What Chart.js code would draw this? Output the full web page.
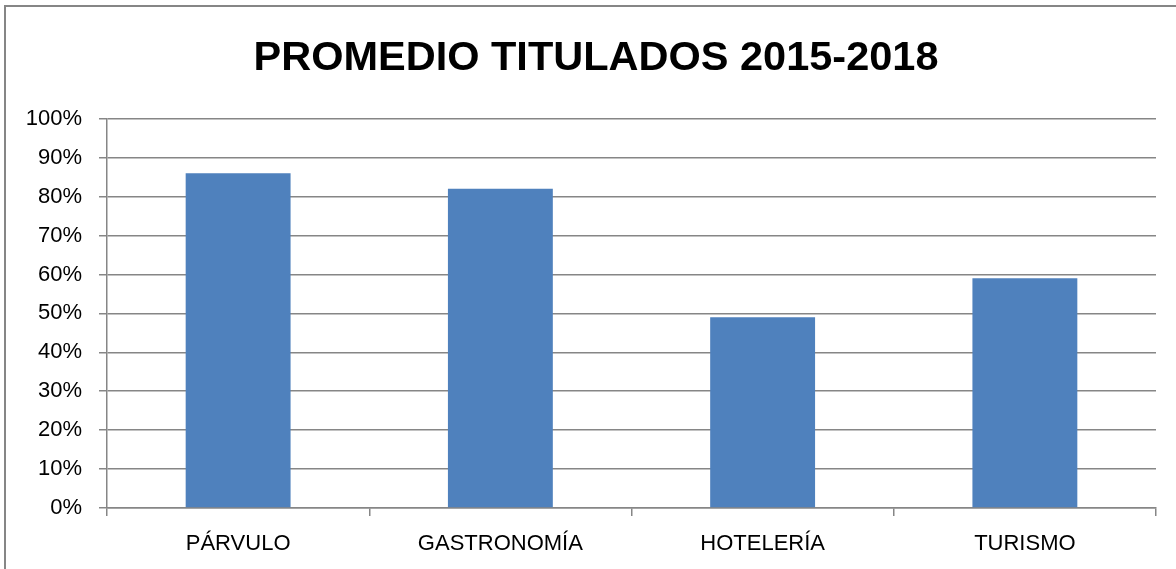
<!DOCTYPE html>
<html>
<head>
<meta charset="utf-8">
<script src="https://cdn.jsdelivr.net/npm/chart.js@4/dist/chart.umd.min.js"></script>
<style>
  html, body { margin: 0; padding: 0; background: #fff; }
  #wrap { width: 1176px; height: 569px; position: relative; }
</style>
</head>
<body>
<div id="wrap"><canvas id="myChart" width="1176" height="569"></canvas></div>
<script>
var categories = ['PÁRVULO', 'GASTRONOMÍA', 'HOTELERÍA', 'TURISMO'];
var promedio = [86, 82, 49, 59];
var titleText = 'PROMEDIO TITULADOS 2015-2018';

var gray = '#868686';

// outer frame like the spreadsheet chart border
var framePlugin = {
  id: 'frame',
  beforeDraw: function (chart) {
    var c = chart.ctx;
    c.save();
    c.fillStyle = '#fff';
    c.fillRect(0, 0, chart.width, chart.height);
    c.strokeStyle = gray;
    c.lineWidth = 2;
    c.strokeRect(5, 6, chart.width + 20, chart.height + 20);
    c.restore();
  },
  // the original frame runs past the right edge, so its title sits a bit right of centre
  afterLayout: function (chart) {
    if (chart.titleBlock) {
      chart.titleBlock.left = 16;
      chart.titleBlock.right = chart.width;
    }
  }
};

var ctx = document.getElementById('myChart').getContext('2d');
var chart = new Chart(ctx, {
  type: 'bar',
  data: {
    labels: categories,
    datasets: [{
      data: promedio,
      backgroundColor: '#4F81BD',
      barPercentage: 0.4,
      categoryPercentage: 1
    }]
  },
  options: {
    responsive: false,
    animation: false,
    layout: { padding: { left: 0, right: 20, top: 0, bottom: 0 } },
    plugins: {
      legend: { display: false },
      tooltip: { enabled: false },
      title: {
        display: true,
        text: titleText,
        color: '#000',
        font: { family: 'Liberation Sans', size: 41.5, weight: 'bold' },
        padding: { top: 34, bottom: 35 }
      }
    },
    scales: {
      x: {
        grid: { offset: true, drawOnChartArea: false, color: gray, lineWidth: 1.5, tickLength: 8 },
        border: { color: gray, width: 1.5 },
        ticks: { color: '#000', padding: 15, font: { family: 'Liberation Sans', size: 22 } },
        afterFit: function (s) { s.height = 61; }
      },
      y: {
        min: 0,
        max: 100,
        grid: { color: gray, lineWidth: 1.5, tickLength: 8 },
        border: { color: gray, width: 1.5 },
        ticks: {
          stepSize: 10,
          color: '#000',
          padding: 17,
          font: { family: 'Liberation Sans', size: 22 },
          callback: function (v) { return v + '%'; }
        },
        afterFit: function (s) { s.width = 107; }
      }
    }
  },
  plugins: [framePlugin]
});
</script>
</body>
</html>
